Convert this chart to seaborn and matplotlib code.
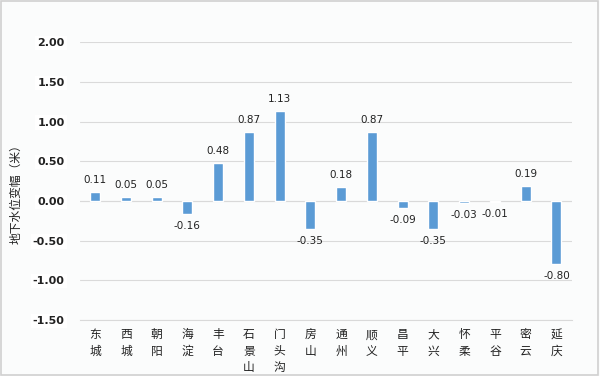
import matplotlib
matplotlib.use("Agg")
import matplotlib.pyplot as plt
import seaborn as sns
import pandas as pd
from matplotlib.patches import Rectangle

districts = ["东城", "西城", "朝阳", "海淀", "丰台", "石景山", "门头沟", "房山",
             "通州", "顺义", "昌平", "大兴", "怀柔", "平谷", "密云", "延庆"]
values = [0.11, 0.05, 0.05, -0.16, 0.48, 0.87, 1.13, -0.35,
          0.18, 0.87, -0.09, -0.35, -0.03, -0.01, 0.19, -0.80]
yticks = [-1.5, -1.0, -0.5, 0.0, 0.5, 1.0, 1.5, 2.0]
ylabel = "地下水位变幅（米）"

sns.set_style("white")
plt.rcParams['font.family'] = ['Noto Sans CJK SC', 'DejaVu Sans']

df = pd.DataFrame({"区": districts, "变幅": values})

fig = plt.figure(figsize=(6, 3.76), dpi=100, facecolor="#FBFCFC")
fig.patches.append(Rectangle((0.002, 0.003), 0.995, 0.994, transform=fig.transFigure,
                             fill=False, edgecolor="#D0D0D0", linewidth=1.2))
ax = fig.add_axes([0.133, 0.149, 0.820, 0.739])
ax.set_facecolor("#FBFCFC")

sns.barplot(data=df, x="区", y="变幅", color="#5B9BD5", saturation=1,
            width=0.33, ax=ax, zorder=3)

ax.set_ylim(-1.5, 2.0)
ax.set_xlim(-0.5, len(districts) - 0.5)
ax.set_yticks(yticks)
ax.set_yticklabels([f"{t:.2f}" for t in yticks], fontsize=8, fontweight="bold",
                   family=["DejaVu Sans"], color="#222222")
for lab in ax.get_yticklabels():
    lab.set_bbox(dict(facecolor="white", edgecolor="none", pad=1.5))
ax.tick_params(axis="y", length=0, pad=11)
ax.tick_params(axis="x", length=0, pad=6)
ax.grid(axis="y", color="#DADADA", linewidth=0.8, zorder=0)
for s in ["top", "right", "left"]:
    ax.spines[s].set_visible(False)
ax.spines["bottom"].set_color("#D9D9D9")
ax.axhline(0, color="#D9D9D9", linewidth=0.8, zorder=2)

ax.set_xticks(range(len(districts)))
ax.set_xticklabels(["\n".join(d) for d in districts], fontsize=8.5,
                   linespacing=1.35, color="#222222", va="top")
ax.set_xlabel("")
ax.set_ylabel(ylabel, fontsize=8.5, color="#222222")
ax.yaxis.set_label_coords(-0.116, 0.464)

for i, v in enumerate(values):
    if v >= 0:
        ax.annotate(f"{v:.2f}", (i, v), xytext=(0, 5), textcoords="offset points",
                    ha="center", va="bottom", fontsize=7.5, family=["DejaVu Sans"], color="#222222")
    else:
        ax.annotate(f"{v:.2f}", (i, v), xytext=(0, -5), textcoords="offset points",
                    ha="center", va="top", fontsize=7.5, family=["DejaVu Sans"], color="#222222")

fig.savefig("out.png", dpi=100, facecolor=fig.get_facecolor())
